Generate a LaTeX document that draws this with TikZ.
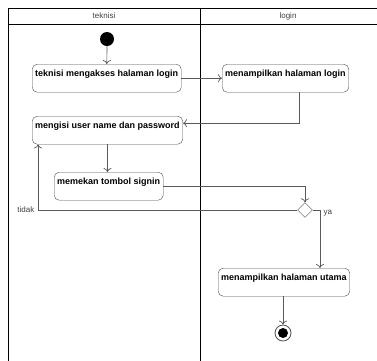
\documentclass[tikz,border=0pt]{standalone}
\usepackage{fontspec}
\setmainfont{Liberation Sans}
\usetikzlibrary{shapes.geometric,arrows.meta}

\begin{document}
\begin{tikzpicture}[x=1pt,y=-1pt,
	lane/.style={line width=1pt, black},
	act/.style={draw=black!70, rounded corners=5pt, fill=white, font=\fontsize{9}{10}\selectfont\bfseries, inner xsep=3pt, inner ysep=2pt, text height=10pt, text depth=14pt, anchor=north west},
	flow/.style={-{To[length=4pt,width=8pt]}, draw=black!65, line width=0.7pt},
	lbl/.style={font=\fontsize{8}{9}\selectfont, text=black!75}]
	\useasboundingbox (0,0) rectangle (377,360);
	% swimlanes
	\draw[lane] (8,364) -- (8,8) -- (380,8);
	\draw[lane] (8,24) -- (380,24);
	\draw[lane] (200,8) -- (200,364);
	\node[lbl] (hTek) at (104,16) {teknisi};
	\node[lbl] (hLog) at (288,16) {login};
	% nodes
	\node[circle, fill=black, minimum size=14pt, inner sep=0pt] (start) at (107,39) {};
	\node[act] (n1) at (32,64) {teknisi mengakses halaman login};
	\node[act] (n2) at (222,64) {menampilkan halaman login};
	\node[act] (n3) at (32,116) {mengisi user name dan password};
	\node[act] (n4) at (54,172) {memekan tombol signin};
	\node[diamond, draw=black!70, fill=white, minimum width=15pt, minimum height=15pt, inner sep=0pt] (cek) at (305,210) {};
	\node[act] (n5) at (218,268) {menampilkan halaman utama};
	\node[circle, draw=black!70, fill=white, line width=0.8pt, minimum size=16pt, inner sep=0pt] (end) at (283,333) {};
	\node[circle, fill=black, minimum size=10pt, inner sep=0pt] (endDot) at (end) {};
	% flows
	\draw[flow] (start) -- (n1);
	\draw[flow] (n1) -- (n2);
	\draw[flow] ([xshift=14pt]n2.south) |- ([yshift=7pt]n3.east);
	\draw[flow] (n3.south) -- (n3.south |- n4.north);
	\draw[flow] (n4.east) -| (cek.north);
	\draw[flow] (cek.west) -| node[pos=0.5, lbl, left] (tTidak) {tidak} ([xshift=6pt]n3.south west);
	\draw[flow] (cek.east) -| node[pos=0.5, lbl, right, yshift=-3pt] (tYa) {ya} ([xshift=36pt]n5.north);
	\draw[flow] (n5.south -| end) -- (end);
\end{tikzpicture}
\end{document}
